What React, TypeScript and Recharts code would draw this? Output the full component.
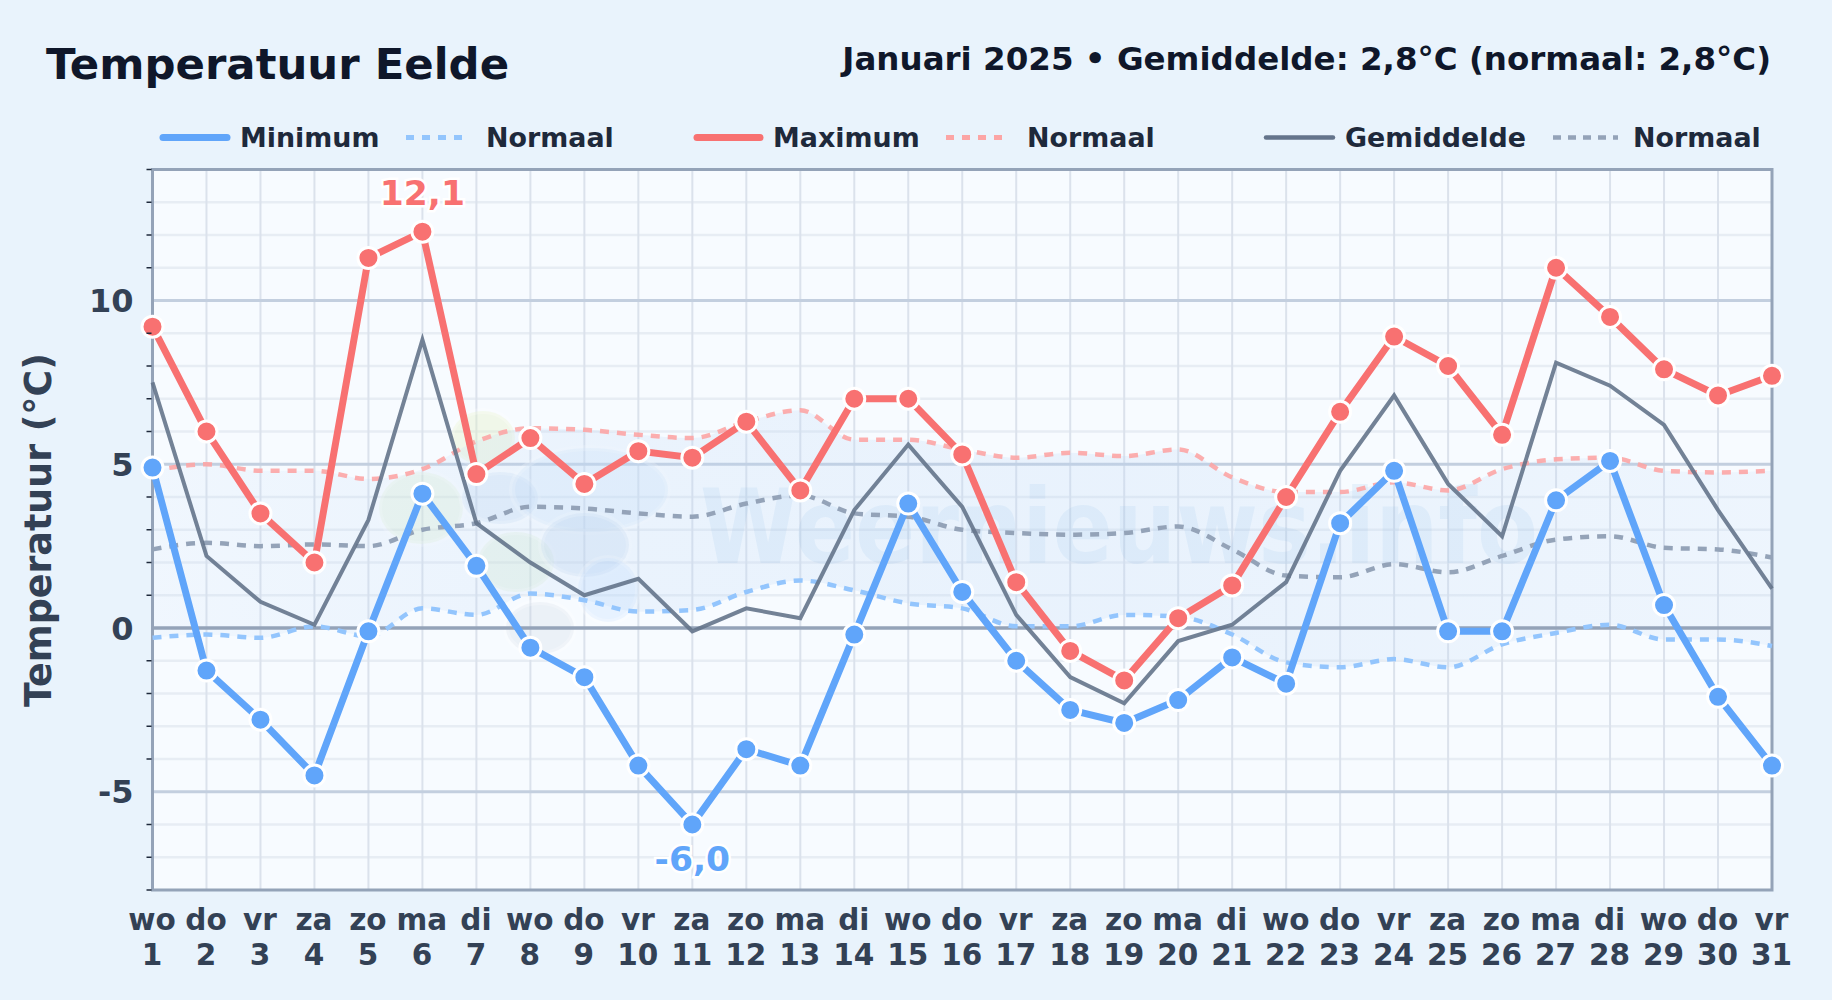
import React from "react";
import {
  ComposedChart, Line, Area, XAxis, YAxis, CartesianGrid, ReferenceArea, ReferenceLine,
} from "recharts";

const weekdays = ["wo","do","vr","za","zo","ma","di","wo","do","vr","za","zo","ma","di","wo","do","vr","za","zo","ma","di","wo","do","vr","za","zo","ma","di","wo","do","vr"];
const days = [1,2,3,4,5,6,7,8,9,10,11,12,13,14,15,16,17,18,19,20,21,22,23,24,25,26,27,28,29,30,31];
const maxTemp = [9.2,6.0,3.5,2.0,11.3,12.1,4.7,5.8,4.4,5.4,5.2,6.3,4.2,7.0,7.0,5.3,1.4,-0.7,-1.6,0.3,1.3,4.0,6.6,8.9,8.0,5.9,11.0,9.5,7.9,7.1,7.7];
const minTemp = [4.9,-1.3,-2.8,-4.5,-0.1,4.1,1.9,-0.6,-1.5,-4.2,-6.0,-3.7,-4.2,-0.2,3.8,1.1,-1.0,-2.5,-2.9,-2.2,-0.9,-1.7,3.2,4.8,-0.1,-0.1,3.9,5.1,0.7,-2.1,-4.2];
const avgTemp = [7.5,2.2,0.8,0.1,3.3,8.8,3.2,2.0,1.0,1.5,-0.1,0.6,0.3,3.6,5.6,3.7,0.4,-1.5,-2.3,-0.4,0.1,1.4,4.8,7.1,4.4,2.8,8.1,7.4,6.2,3.6,1.2];
const normalMax = [4.8,5.0,4.8,4.8,4.55,4.85,5.7,6.1,6.05,5.9,5.8,6.3,6.65,5.75,5.75,5.45,5.2,5.35,5.25,5.45,4.6,4.15,4.15,4.45,4.2,4.85,5.15,5.2,4.8,4.75,4.8];
const normalAvg = [2.4,2.6,2.5,2.55,2.5,3.0,3.2,3.7,3.65,3.5,3.4,3.8,4.05,3.5,3.4,3.0,2.9,2.85,2.9,3.1,2.4,1.6,1.55,1.95,1.7,2.2,2.7,2.8,2.45,2.4,2.15];
const normalMin = [-0.3,-0.2,-0.3,0.05,-0.25,0.6,0.4,1.05,0.85,0.5,0.55,1.1,1.45,1.15,0.75,0.6,0.05,0.05,0.4,0.35,-0.2,-1.05,-1.2,-0.95,-1.2,-0.5,-0.15,0.1,-0.35,-0.35,-0.55];
const yTicks = [-8,-7,-6,-5,-4,-3,-2,-1,0,1,2,3,4,5,6,7,8,9,10,11,12,13,14];
const yLabelled = [-5,0,5,10];
const yMajor = [-5,5,10];
const yMinor = [-7,-6,-4,-3,-2,-1,1,2,3,4,6,7,8,9,11,12,13];

const data = days.map((d, i) => ({
  day: String(d),
  weekday: weekdays[i],
  max: maxTemp[i],
  min: minTemp[i],
  avg: avgTemp[i],
  nMax: normalMax[i],
  nAvg: normalAvg[i],
  nMin: normalMin[i],
  band: [normalMin[i], normalMax[i]],
}));

const FONT = "'DejaVu Sans', sans-serif";
const RED = "#f87171";
const BLUE = "#60a5fa";
const GREY = "#64748b";

const XTick = (p: any) => {
  const row = data[p.index];
  return (
    <text x={p.x} y={p.y} textAnchor="middle" fontFamily={FONT} fontWeight={700} fontSize={29.5} fill="#334155">
      <tspan x={p.x - 0.5} y={930}>{row.weekday}</tspan>
      <tspan x={p.x - 0.5} y={964.5}>{row.day}</tspan>
    </text>
  );
};

const YTick = (p: any) => {
  const v = p.payload.value;
  const lab = yLabelled.includes(v);
  return (
    <g>
      {!lab && <line x1={p.x + 2} x2={p.x + 7} y1={p.y} y2={p.y} stroke="#1e293b" strokeWidth={1.5} />}
      {lab && (
        <text x={p.x - 11} y={p.y + 11.5} textAnchor="end" fontFamily={FONT} fontWeight={700} fontSize={32} fill="#334155">
          {v}
        </text>
      )}
    </g>
  );
};

const peakLabel = (color: string, target: number, dy: number) => (p: any) => {
  if (p.value !== target) return <g key={p.index} />;
  return (
    <text
      key={p.index} x={p.x} y={p.y + dy} textAnchor="middle" fontFamily={FONT} fontWeight={700} fontSize={34.5}
      fill={color} stroke="#ffffff" strokeWidth={5} paintOrder="stroke"
    >
      {target.toFixed(1).replace(".", ",")}
    </text>
  );
};

const dotOf = (c: string) => ({ r: 10.5, fill: c, stroke: "#ffffff", strokeWidth: 3 });

const legendItems = [
  { x1: 163, x2: 227, tx: 240, label: "Minimum", color: BLUE, w: 7, dash: undefined as string | undefined },
  { x1: 406, x2: 464, tx: 486, label: "Normaal", color: "#93c5fd", w: 5, dash: "8 8" },
  { x1: 697, x2: 760, tx: 773, label: "Maximum", color: RED, w: 7, dash: undefined },
  { x1: 946, x2: 1005, tx: 1027, label: "Normaal", color: "#fca5a5", w: 5, dash: "8 8" },
  { x1: 1266, x2: 1333, tx: 1345, label: "Gemiddelde", color: GREY, w: 4.5, dash: undefined },
  { x1: 1553, x2: 1618, tx: 1633, label: "Normaal", color: "#94a3b8", w: 4.5, dash: "8 7" },
];

const blobs = [
  { cx: 421, cy: 508, rx: 42, ry: 36, fill: "#dcefc8", op: 0.3 },
  { cx: 483, cy: 438, rx: 32, ry: 27, fill: "#e3f2c0", op: 0.35 },
  { cx: 516, cy: 562, rx: 38, ry: 30, fill: "#d4ecc8", op: 0.3 },
  { cx: 500, cy: 498, rx: 38, ry: 26, fill: "#bcd4ee", op: 0.3 },
  { cx: 590, cy: 490, rx: 78, ry: 42, fill: "#c5def8", op: 0.28 },
  { cx: 585, cy: 545, rx: 44, ry: 32, fill: "#b9d2ec", op: 0.3 },
  { cx: 608, cy: 590, rx: 30, ry: 32, fill: "#bfdbfe", op: 0.28 },
  { cx: 540, cy: 628, rx: 34, ry: 26, fill: "#c7d2e0", op: 0.25 },
];

export default function App() {
  return (
    <div style={{ position: "absolute", left: 0, top: 0, width: 1832, height: 1000, background: "#e9f3fc", overflow: "hidden" }}>
      <ComposedChart
        width={1832}
        height={1000}
        data={data}
        margin={{ top: 169.5, right: 60, bottom: 0, left: 0.5 }}
      >
        <defs>
          <linearGradient id="bandFill" x1="0" y1="0" x2="1" y2="0">
            <stop offset="0%" stopColor="#bcd6f5" stopOpacity={0.12} />
            <stop offset="30%" stopColor="#bcd6f5" stopOpacity={0.22} />
            <stop offset="60%" stopColor="#bcd6f5" stopOpacity={0.24} />
            <stop offset="100%" stopColor="#bcd6f5" stopOpacity={0.16} />
          </linearGradient>
        </defs>
        <CartesianGrid
          fill="#f7fbff"
          stroke="#e7edf4"
          strokeWidth={2.5}
          vertical={false}
          horizontalValues={yMinor}
        />
        <CartesianGrid stroke="#dbe2ec" strokeWidth={2} horizontal={false} />
        <CartesianGrid stroke="#c3cfdf" strokeWidth={3} vertical={false} horizontalValues={yMajor} />
        <XAxis dataKey="day" type="category" scale="point" interval={0} height={110} axisLine={false} tickLine={false} tick={XTick} />
        <YAxis
          width={152}
          domain={[-8, 14]}
          ticks={yTicks}
          interval={0}
          allowDataOverflow
          axisLine={false}
          tickLine={false}
          tick={YTick}
        />
        <Area
          dataKey="band"
          type="monotone"
          fill="url(#bandFill)"
          fillOpacity={1}
          stroke="none"
          dot={false}
          activeDot={false}
          isAnimationActive={false}
        />
        <ReferenceLine y={0} stroke="#94a3b8" strokeWidth={3.5} />
        <g style={{ pointerEvents: "none" }}>
          {blobs.map((b, i) => (
            <ellipse key={i} cx={b.cx} cy={b.cy} rx={b.rx} ry={b.ry} fill={b.fill} fillOpacity={b.op} stroke="#ffffff" strokeOpacity={0.25} strokeWidth={6} />
          ))}
          <text x={700} y={563} fontFamily={FONT} fontWeight={700} fontSize={104} fill="#5b9bd5" fillOpacity={0.1} textLength={838} lengthAdjust="spacingAndGlyphs">
            Weernieuws.info
          </text>
        </g>
        <ReferenceArea x1="1" x2="31" y1={-8} y2={14} fill="none" stroke="#94a3b8" strokeWidth={3} ifOverflow="visible" />
        <Line dataKey="nMin" type="monotone" stroke="#93c5fd" strokeWidth={4.5} strokeDasharray="9 8" dot={false} activeDot={false} isAnimationActive={false} />
        <Line dataKey="nMax" type="monotone" stroke="#fca5a5" strokeOpacity={0.9} strokeWidth={4.5} strokeDasharray="9 8" dot={false} activeDot={false} isAnimationActive={false} />
        <Line dataKey="nAvg" type="monotone" stroke="#94a3b8" strokeWidth={4.5} strokeDasharray="9 8" dot={false} activeDot={false} isAnimationActive={false} />
        <Line dataKey="avg" type="linear" stroke={GREY} strokeOpacity={0.9} strokeWidth={4} dot={false} activeDot={false} isAnimationActive={false} />
        <Line dataKey="min" type="linear" stroke={BLUE} strokeWidth={7} dot={dotOf(BLUE)} activeDot={false} label={peakLabel(BLUE, -6, 46)} isAnimationActive={false} />
        <Line dataKey="max" type="linear" stroke={RED} strokeWidth={7} dot={dotOf(RED)} activeDot={false} label={peakLabel(RED, 12.1, -27)} isAnimationActive={false} />
      </ComposedChart>
      <svg width={1832} height={1000} style={{ position: "absolute", left: 0, top: 0, pointerEvents: "none" }}>
        <text x={46} y={79} fontFamily={FONT} fontWeight={700} fontSize={43.4} fill="#0f172a">Temperatuur Eelde</text>
        <text x={1771} y={70} textAnchor="end" fontFamily={FONT} fontWeight={700} fontSize={32.5} fill="#0f172a">
          Januari 2025 • Gemiddelde: 2,8°C (normaal: 2,8°C)
        </text>
        {legendItems.map((l, i) => (
          <g key={i}>
            <line x1={l.x1} x2={l.x2} y1={137.5} y2={137.5} stroke={l.color} strokeWidth={l.w} strokeDasharray={l.dash} strokeLinecap={l.dash ? "butt" : "round"} />
            <text x={l.tx} y={147} fontFamily={FONT} fontWeight={700} fontSize={26.9} fill="#1e293b">{l.label}</text>
          </g>
        ))}
        <text
          x={0} y={0} textAnchor="middle" transform="translate(51 530) rotate(-90)"
          fontFamily={FONT} fontWeight={700} fontSize={36.4} fill="#334155"
        >
          Temperatuur (°C)
        </text>
      </svg>
    </div>
  );
}
